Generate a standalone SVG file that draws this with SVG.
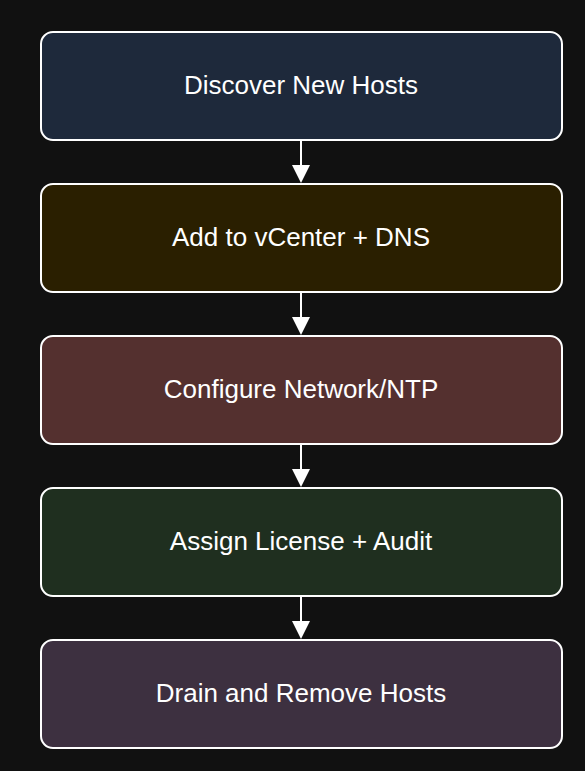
<svg xmlns="http://www.w3.org/2000/svg" width="585" height="771" viewBox="0 0 585 771">
<defs>
<style>
.n{stroke:#ffffff;stroke-width:2}
.t{font-family:"Liberation Sans",Arial,sans-serif;font-size:26px;fill:#ffffff;text-anchor:middle;dominant-baseline:central}
.c{stroke:#ffffff;stroke-width:2;fill:none}
.a{fill:#ffffff}
</style>
</defs>
<rect width="585" height="771" fill="#111111"/>
<g id="connectors">
<line class="c" x1="301" y1="141" x2="301" y2="166"/><path class="a" d="M292,165 L310,165 L301,183 z"/>
<line class="c" x1="301" y1="293" x2="301" y2="318"/><path class="a" d="M292,317 L310,317 L301,335 z"/>
<line class="c" x1="301" y1="445" x2="301" y2="470"/><path class="a" d="M292,469 L310,469 L301,487 z"/>
<line class="c" x1="301" y1="597" x2="301" y2="622"/><path class="a" d="M292,621 L310,621 L301,639 z"/>
</g>
<g id="n1"><rect class="n" x="41" y="32" width="521" height="108" rx="12" fill="#1e293b"/><text class="t" x="301" y="85">Discover New Hosts</text></g>
<g id="n2"><rect class="n" x="41" y="184" width="521" height="108" rx="12" fill="#2a1f00"/><text class="t" x="301" y="237">Add to vCenter + DNS</text></g>
<g id="n3"><rect class="n" x="41" y="336" width="521" height="108" rx="12" fill="#54302f"/><text class="t" x="301" y="389">Configure Network/NTP</text></g>
<g id="n4"><rect class="n" x="41" y="488" width="521" height="108" rx="12" fill="#1f2f1f"/><text class="t" x="301" y="541">Assign License + Audit</text></g>
<g id="n5"><rect class="n" x="41" y="640" width="521" height="108" rx="12" fill="#3d3040"/><text class="t" x="301" y="693">Drain and Remove Hosts</text></g>
</svg>
